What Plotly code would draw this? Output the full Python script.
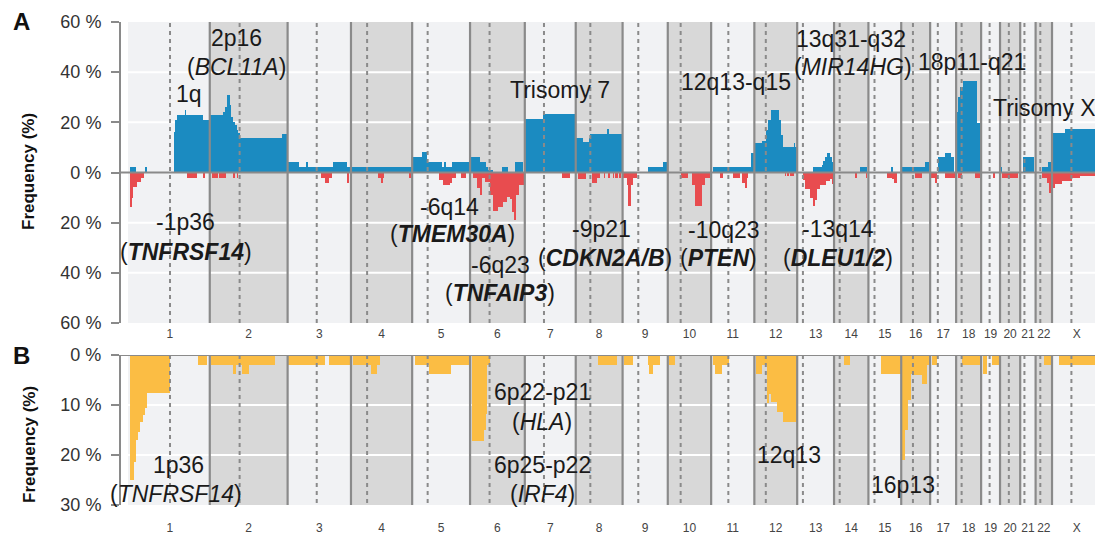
import plotly.graph_objects as go

# ---------------- data ----------------
CHROMS = ["1", "2", "3", "4", "5", "6", "7", "8", "9", "10", "11", "12",
          "13", "14", "15", "16", "17", "18", "19", "20", "21", "22", "X"]
CHROM_LEN_MB = [249.25, 243.2, 198.0, 191.15, 180.9, 171.1, 159.1, 146.4, 141.2,
                135.5, 135.0, 133.85, 115.2, 107.35, 102.5, 90.35, 81.2, 78.1,
                59.1, 63.0, 48.1, 51.3, 155.3]
CENTROMERE_MB = [125.0, 93.3, 91.0, 50.4, 48.4, 61.0, 59.9, 45.6, 49.0, 40.2, 53.7,
                 35.8, 17.9, 17.6, 19.0, 36.6, 24.0, 17.2, 26.5, 27.5, 13.2, 14.7, 60.6]

# (chromosome, start Mb, end Mb, frequency %)
GAINS = [
    ("1", 0, 19, 2), ("1", 47, 53, 2), ("1", 138, 141, 16), ("1", 141, 146, 21),
    ("1", 146, 172, 23), ("1", 172, 175, 25), ("1", 175, 227, 23), ("1", 227, 249, 21),
    ("2", 2, 40, 23), ("2", 40, 48, 24), ("2", 48, 54, 26), ("2", 54, 63, 30.7),
    ("2", 63, 65, 27), ("2", 65, 71, 22.3), ("2", 71, 78, 20.3), ("2", 78, 84, 19),
    ("2", 84, 89, 17), ("2", 89, 94, 15.7), ("2", 94, 226, 13.7), ("2", 226, 240, 15.3),
    ("3", 0, 36, 4), ("3", 36, 57, 2), ("3", 57, 64, 4), ("3", 64, 142, 2),
    ("3", 142, 185, 4), ("3", 185, 198, 2),
    ("4", 2, 190, 2),
    ("5", 0, 30, 6), ("5", 30, 45, 8), ("5", 45, 92, 4), ("5", 92, 99, 2),
    ("5", 99, 106, 4), ("5", 106, 124, 2), ("5", 124, 180, 4),
    ("6", 0, 31, 6), ("6", 31, 50, 4), ("6", 50, 57, 2), ("6", 57, 73, 1),
    ("6", 99, 120, 2), ("6", 141, 166, 4),
    ("7", 1, 58, 21.3), ("7", 58, 159, 23.3),
    ("8", 0, 24, 13.7), ("8", 24, 40, 12), ("8", 40, 45, 13.7), ("8", 45, 97, 15.5),
    ("8", 97, 105, 17.3), ("8", 105, 146, 15.5),
    ("9", 80, 127, 2), ("9", 127, 140, 4),
    ("11", 5, 126, 2), ("11", 126, 135, 7.7),
    ("12", 0, 3, 7.7), ("12", 3, 23, 11.7), ("12", 23, 36, 12.5), ("12", 36, 44, 17),
    ("12", 44, 51, 21), ("12", 51, 76, 25), ("12", 76, 82, 21), ("12", 82, 90, 15),
    ("12", 90, 124, 10), ("12", 124, 128, 11.7), ("12", 128, 133.8, 10),
    ("13", 48, 76, 2), ("13", 76, 82, 3), ("13", 82, 87, 4.5), ("13", 87, 94, 6.3),
    ("13", 94, 102, 7.9), ("13", 102, 108, 6), ("13", 108, 113, 4),
    ("14", 81, 102, 2),
    ("15", 71, 76, 2),
    ("16", 2, 74, 2), ("16", 74, 86, 4),
    ("17", 26, 47, 6.3), ("17", 47, 64, 7.9), ("17", 64, 74, 6.3),
    ("18", 0, 5, 24), ("18", 5, 12, 30), ("18", 12, 20, 34), ("18", 20, 65, 36.3),
    ("18", 65, 77, 19.7),
    ("20", 3, 7, 2),
    ("21", 10, 44, 6),
    ("22", 19, 40, 2), ("22", 40, 48, 4),
    ("X", 1, 40, 15.7), ("X", 40, 155, 17.5),
]

LOSSES = [
    ("1", 0, 5, 13.6), ("1", 5, 10, 10), ("1", 10, 21, 5.6), ("1", 21, 33, 3.6),
    ("1", 33, 44, 2.3), ("1", 177, 210, 2), ("1", 229, 235, 2),
    ("2", 6, 27, 2), ("2", 30, 51, 2), ("2", 73, 79, 2), ("2", 84, 89, 2),
    ("3", 103, 117, 2.3), ("3", 117, 128, 4), ("3", 128, 138, 2.3), ("3", 185, 191, 4),
    ("4", 83, 94, 2.3), ("4", 94, 101, 4), ("4", 101, 104, 2.3), ("4", 181, 186, 2),
    ("5", 84, 97, 3), ("5", 97, 118, 5), ("5", 118, 126, 4), ("5", 126, 137, 2),
    ("5", 154, 168, 2),
    ("6", 8, 21, 2), ("6", 21, 31, 6), ("6", 31, 37, 9), ("6", 37, 47, 2),
    ("6", 47, 62, 3.6), ("6", 62, 73, 9), ("6", 73, 88, 15.3), ("6", 88, 104, 13.6),
    ("6", 104, 115, 11.6), ("6", 115, 125, 9.6), ("6", 125, 130, 10.5),
    ("6", 130, 138, 15.6), ("6", 138, 144, 18.9), ("6", 144, 154, 8.9), ("6", 154, 167, 4.9),
    ("7", 115, 141, 2),
    ("8", 6, 32, 2.5), ("8", 50, 66, 4), ("8", 66, 76, 2), ("8", 87, 92, 2),
    ("8", 102, 108, 2), ("8", 116, 121, 2), ("8", 124, 131, 2), ("8", 135, 140, 2),
    ("9", 2, 13, 2), ("9", 13, 18, 5), ("9", 18, 25, 13.3), ("9", 25, 33, 5), ("9", 33, 44, 2),
    ("10", 40, 64, 2.3), ("10", 75, 85, 5), ("10", 85, 106, 13.5), ("10", 106, 117, 5),
    ("10", 117, 132, 2.3),
    ("11", 27, 38, 2), ("11", 69, 90, 2), ("11", 95, 105, 4), ("11", 105, 112, 6),
    ("11", 112, 116, 2),
    ("12", 96, 100, 1.5), ("12", 103, 107, 1.5), ("12", 112, 125, 1.5),
    ("13", 17, 24, 3), ("13", 24, 40, 6.5), ("13", 40, 48, 10), ("13", 48, 56, 13.5),
    ("13", 56, 63, 11), ("13", 63, 72, 6.5), ("13", 72, 90, 5), ("13", 90, 102, 3.5),
    ("13", 102, 108, 2.5), ("13", 108, 113, 4.5),
    ("14", 65, 71, 2.3), ("14", 99, 103, 2.3),
    ("15", 57, 73, 2), ("15", 73, 81, 2.5), ("15", 81, 88, 4),
    ("16", 43, 64, 2),
    ("17", 3, 15, 2), ("17", 15, 22, 4), ("17", 46, 81, 2),
    ("18", 7, 17, 2), ("18", 59, 75, 2),
    ("19", 36, 43, 2),
    ("20", 5, 57, 2),
    ("22", 19, 35, 2), ("22", 35, 42, 4), ("22", 42, 51, 8),
    ("X", 0, 9, 6), ("X", 9, 30, 4.7), ("X", 30, 61, 3.3), ("X", 61, 87, 2), ("X", 87, 155, 1.3),
]

PANEL_B = [
    ("1", 0, 12, 25), ("1", 12, 19, 21.3), ("1", 19, 24, 17), ("1", 24, 31, 15.3),
    ("1", 31, 40, 13.3), ("1", 40, 47, 12), ("1", 47, 52, 10.5), ("1", 52, 125, 7.5),
    ("1", 213, 240, 2),
    ("2", 3, 73, 2), ("2", 73, 82, 3.7), ("2", 82, 100, 2), ("2", 100, 123, 3.7),
    ("2", 123, 204, 2),
    ("3", 2, 117, 2), ("3", 130, 195, 2),
    ("4", 7, 62, 2), ("4", 62, 80, 3.7), ("4", 80, 91, 2),
    ("5", 9, 45, 2), ("5", 47, 53, 2), ("5", 53, 120, 3.7), ("5", 120, 178, 2),
    ("6", 5, 42, 17.2), ("6", 42, 50, 15), ("6", 50, 54, 11.7), ("6", 54, 62, 2),
    ("8", 71, 130, 2),
    ("9", 5, 33, 2), ("9", 78, 83, 2), ("9", 83, 96, 3.7), ("9", 96, 117, 2),
    ("10", 5, 22, 2),
    ("11", 5, 12, 2), ("11", 12, 33, 3.7), ("11", 33, 57, 2),
    ("12", 4, 23, 3.7), ("12", 23, 38, 2), ("12", 38, 45, 9.5), ("12", 45, 52, 7.7),
    ("12", 52, 70, 9.3), ("12", 70, 90, 11.3), ("12", 90, 132, 13.3),
    ("14", 32, 50, 2),
    ("15", 39, 102, 3.7),
    ("16", 2, 12, 21), ("16", 12, 22, 15), ("16", 22, 30, 9), ("16", 30, 38, 3.7),
    ("16", 38, 64, 3.9), ("16", 64, 82, 5.7), ("16", 82, 90, 2),
    ("17", 5, 22, 2),
    ("18", 17, 75, 2),
    ("19", 5, 17, 3.7), ("19", 33, 57, 2),
    ("22", 26, 50, 2),
    ("X", 23, 155, 2),
]

# annotation texts: (text, chromosome, position Mb, frequency %)
LABELS_A = [
    ("2p16", "2", 85, 53.8), ("(<i>BCL11A</i>)", "2", 85, 42.2),
    ("1q", "1", 184, 31.4),
    ("Trisomy 7", "7", 110, 33),
    ("12q13-q15", "11", 78, 36.2),
    ("13q31-q32", "14", 53, 53.4), ("(<i>MIR14HG</i>)", "14", 59, 42.2),
    ("18p11-q21", "18", 50, 44.2),
    ("-1p36", "1", 172, -19.8), ("(<b><i>TNFRSF14</i></b>)", "1", 175, -31.8),
    ("-6q14", "5", 118, -13.8), ("(<b><i>TMEM30A</i></b>)", "5", 124.5, -24.6),
    ("-6q23", "6", 93.6, -37), ("(<b><i>TNFAIP3</i></b>)", "6", 93.6, -48.2),
    ("-9p21", "8", 82, -22.6), ("(<b><i>CDKN2A/B</i></b>)", "8", 91.5, -34.2),
    ("-10q23", "11", 40, -23), ("(<b><i>PTEN</i></b>)", "11", 24.5, -34.2),
    ("-13q14", "14", 12.4, -22.6), ("(<b><i>DLEU1/2</i></b>)", "14", 12.4, -34.2),
]
LABEL_TRISOMY_X = ("Trisomy X", "19", 30, 25.8)
LABELS_B = [
    ("1p36", "1", 150, 22), ("(<i>TNFRSF14</i>)", "1", 144, 27.8),
    ("6p22-p21", "7", 53.7, 7.4), ("(<i>HLA</i>)", "7", 53.7, 13.4),
    ("6p25-p22", "7", 53.7, 22), ("(<i>IRF4</i>)", "7", 55, 27.8),
    ("12q13", "12", 108, 20),
    ("16p13", "16", 5.6, 26),
]

Y_TICKS_A = [60, 40, 20, 0, -20, -40, -60]
Y_TICKS_B = [0, 10, 20, 30]

# ---------------- style ----------------
W, H = 1095, 536
FONT = "Liberation Sans, Arial, sans-serif"
BLUE, RED, ORANGE = "#1b8bc1", "#e84c4f", "#fbbd44"
LIGHT, DARK = "#f1f2f4", "#d8d8d8"
LINE = "#8a8a8a"
TXT = "#1a1a1a"

offsets = {}
acc = 0.0
for c, L in zip(CHROMS, CHROM_LEN_MB):
    offsets[c] = acc
    acc += L
length = dict(zip(CHROMS, CHROM_LEN_MB))


def gpos(c, mb):
    return offsets[c] + mb


PX_PER_MB = 0.32005
X_LEFT_PX, CHR1_PX = 121, 130
X0 = (X_LEFT_PX - CHR1_PX) / PX_PER_MB
X1 = (W - CHR1_PX) / PX_PER_MB
BAND_START = (128 - CHR1_PX) / PX_PER_MB


def py(p):
    return 1 - p / H


domA = [py(323), py(22)]
domB = [py(505), py(355)]


def bar_trace(segs, sign, color, xa, ya):
    xs = [gpos(c, (s + e) / 2) for c, s, e, v in segs]
    ws = [e - s for c, s, e, v in segs]
    ys = [sign * v for c, s, e, v in segs]
    return go.Bar(x=xs, y=ys, width=ws, marker=dict(color=color, line=dict(width=0)),
                  xaxis=xa, yaxis=ya, showlegend=False, hoverinfo="skip")


fig = go.Figure()
fig.add_trace(bar_trace(GAINS, 1, BLUE, "x", "y"))
fig.add_trace(bar_trace(LOSSES, -1, RED, "x", "y"))
fig.add_trace(bar_trace(PANEL_B, 1, ORANGE, "x2", "y2"))

shapes = []
panels = [("x", "y", -60, 60, [-40, -20, 20, 40]), ("x2", "y2", 0, 30, [10, 20])]
for xr, yr, lo, hi, grids in panels:
    for i, c in enumerate(CHROMS):
        x0 = offsets[c] if i > 0 else BAND_START
        shapes.append(dict(type="rect", xref=xr, yref=yr, x0=x0, x1=offsets[c] + length[c],
                           y0=lo, y1=hi, fillcolor=LIGHT if i % 2 == 0 else DARK,
                           line=dict(width=0), layer="below"))
    for g in grids:
        shapes.append(dict(type="line", xref=xr, yref=yr, x0=BAND_START, x1=X1, y0=g, y1=g,
                           line=dict(color="white", width=2), layer="below"))
    for i, c in enumerate(CHROMS):
        if i > 0:
            shapes.append(dict(type="line", xref=xr, yref=yr, x0=offsets[c], x1=offsets[c],
                               y0=lo, y1=hi, line=dict(color=LINE, width=2.2), layer="above"))
        cx = offsets[c] + CENTROMERE_MB[i]
        shapes.append(dict(type="line", xref=xr, yref=yr, x0=cx, x1=cx, y0=lo, y1=hi,
                           line=dict(color=LINE, width=2, dash="4px,4px"), layer="above"))
    shapes.append(dict(type="line", xref=xr, yref=yr, x0=X0, x1=X1, y0=0, y1=0,
                       line=dict(color=LINE, width=2), layer="above"))

centers = [offsets[c] + length[c] / 2 for c in CHROMS]

annotations = []
big = dict(family=FONT, size=23, color=TXT)
for (t, c, mb, f) in LABELS_A:
    annotations.append(dict(text=t, x=gpos(c, mb), y=f, xref="x", yref="y",
                            showarrow=False, font=big, xanchor="center", yanchor="middle"))
t, c, mb, f = LABEL_TRISOMY_X
annotations.append(dict(text=t, x=gpos(c, mb), y=f, xref="x", yref="y", showarrow=False,
                        font=big, xanchor="left", yanchor="middle"))
for (t, c, mb, f) in LABELS_B:
    annotations.append(dict(text=t, x=gpos(c, mb), y=f, xref="x2", yref="y2",
                            showarrow=False, font=big, xanchor="center", yanchor="middle"))
for letter, ypx in (("A", 21), ("B", 355)):
    annotations.append(dict(text=f"<b>{letter}</b>", x=21 / W, y=py(ypx), xref="paper",
                            yref="paper", showarrow=False, xanchor="center", yanchor="middle",
                            font=dict(family=FONT, size=24, color="#111")))
for ypx in (172, 445):
    annotations.append(dict(text="<b>Frequency (%)</b>", x=29 / W, y=py(ypx), xref="paper",
                            yref="paper", showarrow=False, textangle=-90, xanchor="center",
                            yanchor="middle", font=dict(family=FONT, size=17, color="#111")))


def xaxis(anchor, ticklen):
    return dict(domain=[X_LEFT_PX / W, 1], range=[X0, X1], anchor=anchor,
                tickmode="array", tickvals=centers, ticktext=CHROMS,
                ticks="outside", ticklen=ticklen, tickcolor="rgba(0,0,0,0)",
                tickfont=dict(family=FONT, size=12, color="#444"),
                showgrid=False, zeroline=False, showline=False, fixedrange=True,
                automargin=False)


def yaxis(anchor, dom, rng, vals):
    return dict(domain=dom, range=rng, anchor=anchor, tickmode="array", tickvals=vals,
                ticktext=[f"{abs(v)} %" for v in vals], ticks="outside", ticklen=8,
                tickwidth=2, tickcolor=LINE, showline=True, linewidth=2, linecolor=LINE,
                showgrid=False, zeroline=False, ticklabelstandoff=6,
                tickfont=dict(family=FONT, size=18, color="#333"), fixedrange=True,
                automargin=False)


fig.update_layout(
    width=W, height=H, margin=dict(l=0, r=0, t=0, b=0),
    paper_bgcolor="white", plot_bgcolor="white",
    barmode="overlay", bargap=0,
    xaxis=xaxis("y", 0), xaxis2=xaxis("y2", 12),
    yaxis=yaxis("x", domA, [-60, 60], Y_TICKS_A),
    yaxis2=yaxis("x2", domB, [30, 0], Y_TICKS_B),
    shapes=shapes, annotations=annotations, showlegend=False,
    font=dict(family=FONT),
)

fig.write_html(
    "out.html",
    config={"displayModeBar": False, "staticPlot": True},
    post_script="document.body.style.margin='0';document.body.style.padding='0';"
                "document.body.style.overflow='hidden';",
)
